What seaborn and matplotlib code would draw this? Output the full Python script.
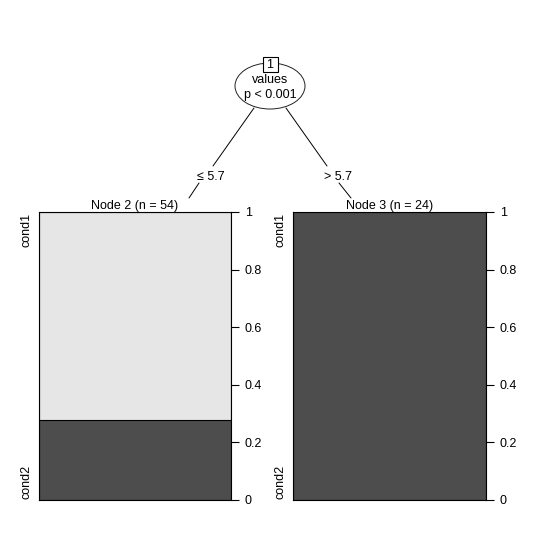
import matplotlib
matplotlib.use("Agg")
import matplotlib.pyplot as plt
from matplotlib.patches import Ellipse, Rectangle
import pandas as pd
import seaborn as sns

# terminal node data
node_ids = [2, 3]
node_n = [54, 24]
levels = ["cond1", "cond2"]
cond2_share = [0.278, 1.0]
split_var = "values"
split_p = "p < 0.001"
edge_labels = ["\u2264 5.7", "> 5.7"]
ticks = [0, 0.2, 0.4, 0.6, 0.8, 1]
tick_labels = ["0", "0.2", "0.4", "0.6", "0.8", "1"]

sns.set_style("white")
plt.rcParams['font.family'] = ['Liberation Sans', 'DejaVu Sans']
plt.rcParams['font.size'] = 9
plt.rcParams['text.color'] = "black"
plt.rcParams['ytick.color'] = "black"
plt.rcParams['ytick.labelcolor'] = "black"

dark = "#4d4d4d"
light = "#e6e6e6"

fig = plt.figure(figsize=(5.4, 5.4), dpi=100)

# overlay in pixel coordinates for the tree part
tree = fig.add_axes([0, 0, 1, 1])
tree.set_xlim(0, 540)
tree.set_ylim(540, 0)
tree.axis("off")

tree.add_patch(Ellipse((270, 86), 70, 46, fill=False, lw=0.7, color="#222222"))
tree.add_patch(Rectangle((262.5, 57), 15, 15, facecolor="white", edgecolor="black", lw=0.8))
tree.text(270, 64.5, "1", ha="center", va="center")
tree.text(270, 80, split_var, ha="center", va="center")
tree.text(270, 95, split_p, ha="center", va="center")

tree.plot([254, 213], [108, 166], color="black", lw=0.7)
tree.plot([199, 189], [183, 198], color="black", lw=0.7)
tree.plot([286, 327], [108, 166], color="black", lw=0.7)
tree.plot([339, 351], [183, 198], color="black", lw=0.7)
tree.text(211, 177, edge_labels[0], ha="center", va="center")
tree.text(338, 177, edge_labels[1], ha="center", va="center")

panels = [(39, 192), (293, 193)]
for (px, pw), nid, n, share in zip(panels, node_ids, node_n, cond2_share):
    ax = fig.add_axes([px / 540, 40 / 540, pw / 540, 288 / 540])
    df = pd.DataFrame({"node": [nid], "total": [1.0], "cond2": [share]})
    sns.barplot(data=df, x="node", y="total", color=light, saturation=1,
                width=1, edgecolor="black", linewidth=0.8, ax=ax)
    sns.barplot(data=df, x="node", y="cond2", color=dark, saturation=1,
                width=1, edgecolor="black", linewidth=0.8, ax=ax)
    ax.set_xlim(-0.5, 0.5)
    ax.set_ylim(0, 1)
    ax.set_xlabel("")
    ax.set_ylabel("")
    ax.set_xticks([])
    ax.yaxis.tick_right()
    ax.set_yticks(ticks)
    ax.set_yticklabels(tick_labels)
    ax.tick_params(axis="y", length=6, width=0.8, pad=4, right=True, left=False)
    for s in ax.spines.values():
        s.set_color("black")
        s.set_linewidth(0.8)
    tree.text(px + pw / 2, 206, "Node %d (n = %d)" % (nid, n), ha="center", va="center")
    tree.text(px - 12, 230, levels[0], rotation=90, ha="center", va="center")
    tree.text(px - 12, 482, levels[1], rotation=90, ha="center", va="center")

fig.savefig("out.png", dpi=100)
